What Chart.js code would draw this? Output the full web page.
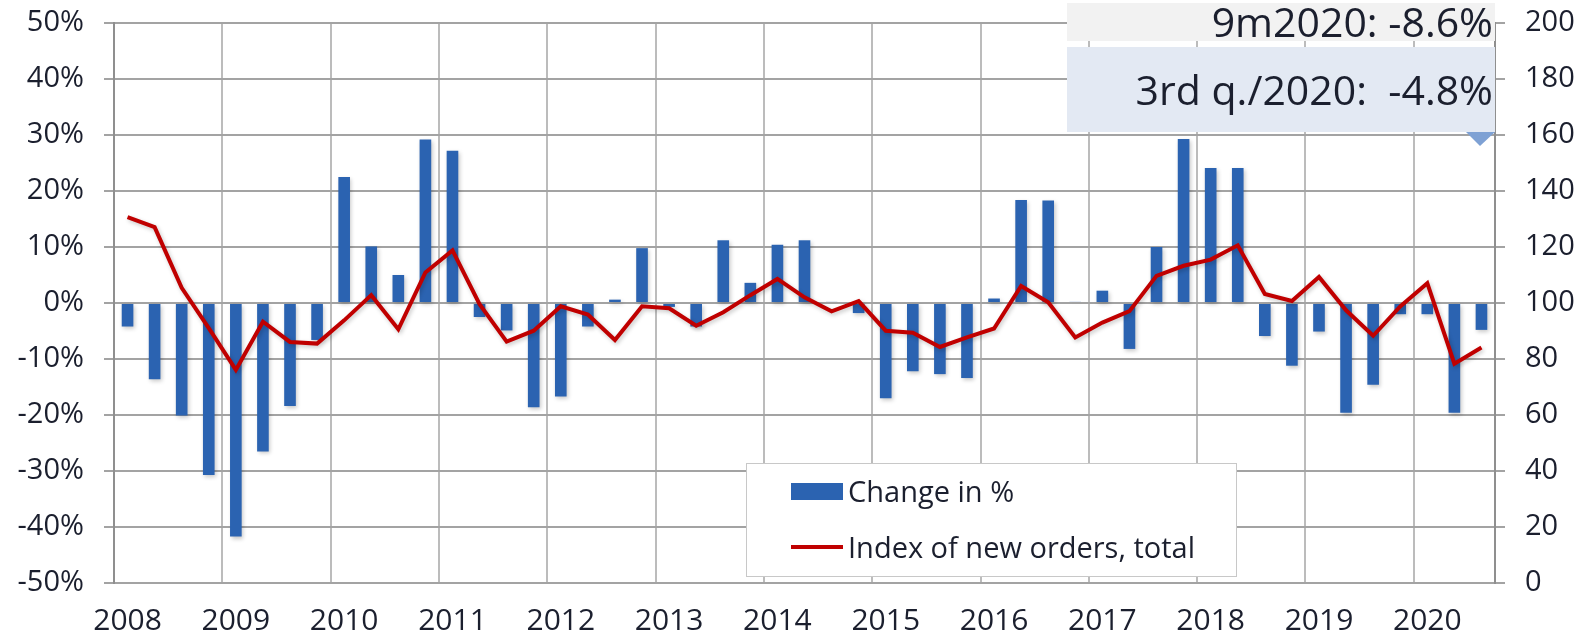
<!DOCTYPE html>
<html>
<head>
<meta charset="utf-8">
<script src="https://cdn.jsdelivr.net/npm/chart.js@4/dist/chart.umd.min.js"></script>
<style>
    html, body { margin: 0; padding: 0; background: #fff; }
    #wrap { width: 1583px; height: 637px; position: relative; }
</style>
</head>
<body>
<div id="wrap"><canvas id="ordersChart"></canvas></div>
<script>
// --- data (quarterly, 2008 Q1 .. 2020 Q3) ---
const years = ['2008', '2009', '2010', '2011', '2012', '2013', '2014', '2015', '2016', '2017', '2018', '2019', '2020'];
const quarters = ['Q1', 'Q2', 'Q3', 'Q4'];

// change vs. previous year's quarter, in %
const changePct = [
    -4.2, -13.6, -20.1, -30.7,
    -41.7, -26.5, -18.4, -6.6,
    22.5, 10.1, 5.0, 29.2,
    27.2, -2.5, -4.9, -18.6,
    -16.7, -4.2, 0.6, 9.8,
    -0.7, -4.2, 11.2, 3.6,
    10.4, 11.2, 0.2, -1.8,
    -17.0, -12.2, -12.7, -13.4,
    0.8, 18.4, 18.3, 0.2,
    2.2, -8.2, 10.0, 29.3,
    24.1, 24.1, -5.9, -11.2,
    -5.1, -19.6, -14.6, -2.0,
    -2.0, -19.6, -4.8
];

// index of new orders, total
const orderIndex = [
    130.7, 127.1, 105.4, 91.0,
    76.1, 93.3, 86.1, 85.5,
    93.8, 102.8, 90.6, 110.9,
    118.8, 99.6, 86.2, 90.1,
    98.8, 95.9, 86.8, 98.8,
    98.1, 91.9, 96.7, 102.8,
    108.6, 102.0, 97.0, 100.7,
    90.1, 89.4, 84.3, 87.7,
    90.9, 106.1, 100.3, 87.7,
    93.0, 97.1, 109.7, 113.3,
    115.5, 120.6, 103.2, 100.7,
    109.3, 97.4, 88.3, 98.8,
    107.1, 78.3, 84.1
];

const seriesNames = ['Change in %', 'Index of new orders, total'];
const noteLines = ['9m2020: -8.6%', '3rd q./2020:  -4.8%'];

const labels = years.flatMap(y => quarters.map(q => q + ' ' + y)).slice(0, changePct.length);

const BAR_BLUE = '#2b63b1';
const LINE_RED = '#c00000';
const TEXT = '#1b1f2e';
const FONT = "'Open Sans', sans-serif";

Chart.defaults.font.family = FONT;
Chart.defaults.color = TEXT;

// soft drop shadow under bars and line (Excel look)
const shadows = {
    id: 'shadows',
    beforeDatasetDraw(chart) {
        const ctx = chart.ctx;
        ctx.save();
        ctx.shadowColor = 'rgba(0, 0, 0, 0.22)';
        ctx.shadowBlur = 4;
        ctx.shadowOffsetX = 1.5;
        ctx.shadowOffsetY = 2;
    },
    afterDatasetDraw(chart) {
        chart.ctx.restore();
    }
};

// legend box + the two note boxes top right (drawn over the grid like in the original)
const overlays = {
    id: 'overlays',
    afterDraw(chart) {
        const ctx = chart.ctx;
        const area = chart.chartArea;
        ctx.save();

        // note boxes
        ctx.fillStyle = '#f2f2f2';
        ctx.fillRect(1067, 3, area.right - 1067, 38);
        ctx.fillStyle = '#e3e9f3';
        ctx.fillRect(1067, 47, area.right - 1067, 85);
        ctx.fillStyle = '#7ea1d4';
        ctx.beginPath();
        ctx.moveTo(1466, 132);
        ctx.lineTo(area.right, 132);
        ctx.lineTo(1480, 146);
        ctx.closePath();
        ctx.fill();

        ctx.fillStyle = TEXT;
        ctx.font = '41px ' + FONT;
        ctx.textAlign = 'right';
        ctx.textBaseline = 'alphabetic';
        ctx.fillText(noteLines[0], 1493, 37);
        ctx.fillText(noteLines[1], 1493, 105);

        // legend
        ctx.fillStyle = '#fff';
        ctx.fillRect(746, 463, 490, 113);
        ctx.strokeStyle = '#c8c8c8';
        ctx.lineWidth = 1;
        ctx.strokeRect(746.5, 463.5, 490, 113);

        ctx.fillStyle = BAR_BLUE;
        ctx.fillRect(791, 483, 52, 17);
        ctx.strokeStyle = LINE_RED;
        ctx.lineWidth = 4;
        ctx.beginPath();
        ctx.moveTo(791, 547);
        ctx.lineTo(843, 547);
        ctx.stroke();

        ctx.fillStyle = TEXT;
        ctx.font = '29px ' + FONT;
        ctx.textAlign = 'left';
        ctx.fillText(seriesNames[0], 848, 502);
        ctx.fillText(seriesNames[1], 848, 558);
        ctx.restore();
    }
};

// fixed axis sizes so the plot area sits where it does in the original
const fixY = w => s => { s.width = w; s.paddingTop = 0; s.paddingBottom = 0; };

new Chart(document.getElementById('ordersChart'), {
    data: {
        labels: labels,
        datasets: [
            {
                type: 'line',
                label: seriesNames[1],
                data: orderIndex,
                yAxisID: 'yIndex',
                borderColor: LINE_RED,
                borderWidth: 4,
                pointRadius: 0,
                tension: 0,
                order: 0
            },
            {
                type: 'bar',
                label: seriesNames[0],
                data: changePct,
                yAxisID: 'yPct',
                backgroundColor: BAR_BLUE,
                barPercentage: 0.43,
                categoryPercentage: 1,
                order: 1
            }
        ]
    },
    options: {
        responsive: true,
        maintainAspectRatio: false,
        animation: false,
        devicePixelRatio: 1,
        layout: { padding: { top: 23, left: 0, right: 0, bottom: 0 } },
        plugins: { legend: { display: false }, tooltip: { enabled: false } },
        scales: {
            x: {
                type: 'category',
                offset: true,
                grid: {
                    offset: true,
                    drawTicks: false,
                    lineWidth: 2,
                    color: c => (c.index % 4 === 0 ? '#bcbcbc' : 'rgba(0,0,0,0)')
                },
                border: { display: false },
                ticks: {
                    autoSkip: false,
                    maxRotation: 0,
                    padding: 20,
                    font: { size: 30 },
                    color: TEXT,
                    callback: (v, i) => (i % 4 === 0 ? years[i / 4] : '')
                },
                afterFit: s => { s.height = 54; s.paddingLeft = 0; s.paddingRight = 0; }
            },
            yPct: {
                position: 'left',
                min: -50,
                max: 50,
                ticks: {
                    stepSize: 10,
                    padding: 20,
                    font: { size: 29 },
                    color: TEXT,
                    callback: v => v + '%'
                },
                grid: { color: '#a3a3a3', lineWidth: 2, tickLength: 10 },
                border: { color: '#8f8f8f', width: 2 },
                afterFit: fixY(114)
            },
            yIndex: {
                position: 'right',
                min: 0,
                max: 200,
                ticks: {
                    stepSize: 20,
                    padding: 20,
                    font: { size: 29 },
                    color: TEXT
                },
                grid: { drawOnChartArea: false, color: '#a3a3a3', lineWidth: 2, tickLength: 10 },
                border: { color: '#8f8f8f', width: 2 },
                afterFit: fixY(88)
            }
        }
    },
    plugins: [shadows, overlays]
});
</script>
</body>
</html>
